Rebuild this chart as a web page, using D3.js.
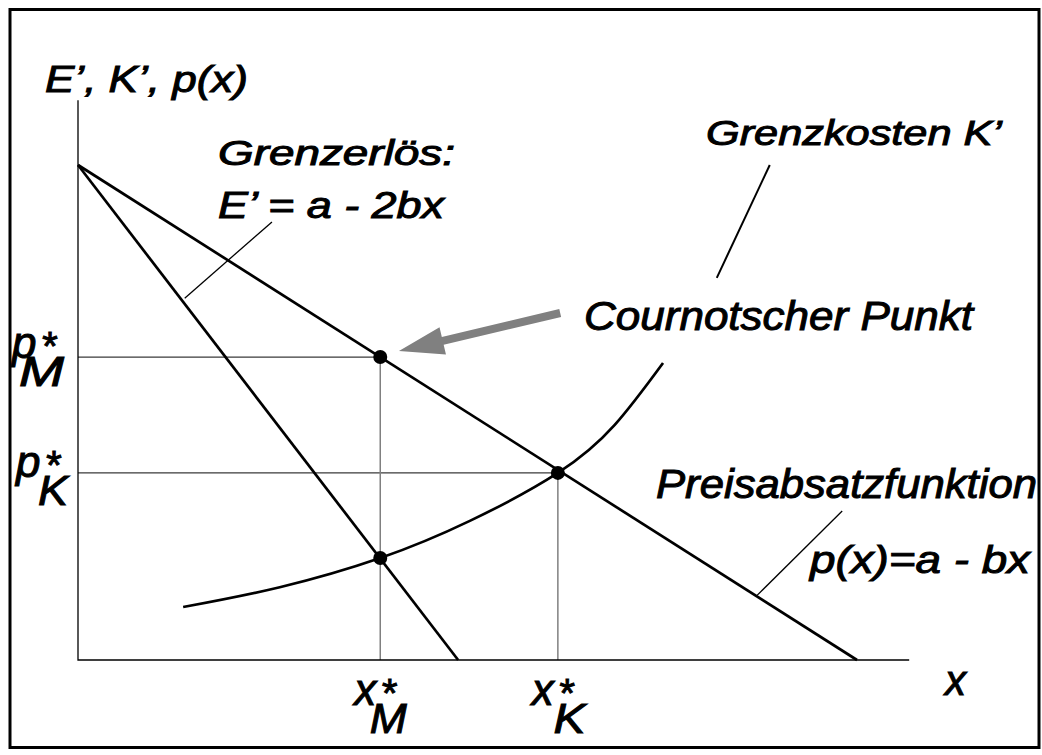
<!DOCTYPE html>
<html>
<head>
<meta charset="utf-8">
<script src="https://cdn.jsdelivr.net/npm/d3@7"></script>
<style>
  body { margin: 0; background: #fff; }
  text {
    font-family: "Liberation Sans", Arial, Helvetica, sans-serif;
    font-style: italic;
    fill: #000;
    stroke: #000;
    stroke-width: 1px;
  }
</style>
</head>
<body>
<div id="chart-area"></div>
<script>
// Werte in Modelleinheiten (a = 100, Sättigungsmenge = 100)
const axisMax = [106.7, 113.1];
const demand = [[0, 100], [100, 0]];              // p(x) = a - bx
const marginalRevenue = [[0, 100], [48.8, 0]];    // E' = a - 2bx
const marginalCost = [
  [13.5, 10.7], [25.9, 14.7], [38.8, 20.6], [50.3, 28.1],
  [61.6, 37.8], [68.9, 47.5], [75.1, 60.0]
];
const quantities = [38.8, 61.6];                  // x*_M, x*_K
const prices = [61.2, 37.8];                      // p*_M, p*_K
const subscripts = ['M', 'K'];
const points = [[38.8, 61.2], [61.6, 37.8], [38.8, 20.6]];
const leaderMR = [[13.7, 73.1], [24.9, 88.5]];
const leaderMC = [[82.0, 77.2], [88.8, 100]];
const leaderDemand = [[87.2, 13.1], [98.1, 30.1]];
const arrowCournot = [[61.9, 70.1], [41.2, 62.4]];

const width = 1042;
const height = 755;

const x = d3.scaleLinear().domain([0, 100]).range([78, 857]);
const y = d3.scaleLinear().domain([0, 100]).range([660, 165]);

const line = d3.line().x(d => x(d[0])).y(d => y(d[1]));

const svg = d3.select('#chart-area').append('svg')
  .attr('width', width)
  .attr('height', height);

// Hilfslinien
svg.selectAll('.hline')
  .data(prices)
  .enter().append('line')
    .attr('x1', x(0))
    .attr('x2', (d, i) => x(quantities[i]))
    .attr('y1', d => y(d))
    .attr('y2', d => y(d))
    .attr('stroke', '#3a3a3a')
    .attr('stroke-width', 1.3);

svg.selectAll('.vline')
  .data(quantities)
  .enter().append('line')
    .attr('x1', d => x(d))
    .attr('x2', d => x(d))
    .attr('y1', y(0))
    .attr('y2', (d, i) => y(prices[i]))
    .attr('stroke', '#808080')
    .attr('stroke-width', 1.5);

// Achsen
svg.append('path')
  .attr('d', line([[0, axisMax[1]], [0, 0], [axisMax[0], 0]]))
  .attr('fill', 'none')
  .attr('stroke', '#000')
  .attr('stroke-width', 1.3);

// Kurven
[demand, marginalRevenue].forEach(d => {
  svg.append('path')
    .attr('d', line(d))
    .attr('fill', 'none')
    .attr('stroke', '#000')
    .attr('stroke-width', 2.7);
});

const curve = d3.line()
  .x(d => x(d[0]))
  .y(d => y(d[1]))
  .curve(d3.curveNatural);

svg.append('path')
  .attr('d', curve(marginalCost))
  .attr('fill', 'none')
  .attr('stroke', '#000')
  .attr('stroke-width', 2.7);

// Hinweislinien
[[leaderMR, 1.3], [leaderMC, 2], [leaderDemand, 1.3]].forEach(([d, w]) => {
  svg.append('path')
    .attr('d', line(d))
    .attr('stroke', '#000')
    .attr('stroke-width', w);
});

// Punkte
svg.selectAll('circle')
  .data(points)
  .enter().append('circle')
    .attr('cx', d => x(d[0]))
    .attr('cy', d => y(d[1]))
    .attr('r', 7)
    .attr('fill', '#000');

// Pfeil zum Cournotschen Punkt
{
  const [p0, p1] = arrowCournot.map(d => [x(d[0]), y(d[1])]);
  const len = Math.hypot(p1[0] - p0[0], p1[1] - p0[1]);
  const ux = (p1[0] - p0[0]) / len, uy = (p1[1] - p0[1]) / len;
  const nx = -uy, ny = ux;
  const head = 45, hw = 14, sw = 4;
  const bx = p1[0] - ux * head, by = p1[1] - uy * head;
  const pts = [
    [p0[0] + nx * sw, p0[1] + ny * sw],
    [bx + nx * sw, by + ny * sw],
    [bx + nx * hw, by + ny * hw],
    p1,
    [bx - nx * hw, by - ny * hw],
    [bx - nx * sw, by - ny * sw],
    [p0[0] - nx * sw, p0[1] - ny * sw]
  ];
  svg.append('polygon')
    .attr('points', pts.map(p => p.join(',')).join(' '))
    .attr('fill', '#808080');
}

// Beschriftungen
const label = (t, px, py, size, len) => {
  const el = svg.append('text')
    .text(t)
    .attr('x', px)
    .attr('y', py)
    .attr('font-size', size);
  if (len) el.attr('textLength', len).attr('lengthAdjust', 'spacingAndGlyphs');
  return el;
};

label('E\u2019, K\u2019, p(x)', 45, 92, 37, 203);
label('Grenzerlös:', 218, 165, 35, 237);
label('E\u2019 = a - 2bx', 218, 218, 36, 226);
label('Grenzkosten K\u2019', 706, 145, 35, 296);
label('Cournotscher Punkt', 584, 330, 40, 389);
label('Preisabsatzfunktion', 656, 498, 40, 381);
label('p(x)=a - bx', 810, 573, 38, 220);
label('x', 945, 695, 42);

// p* / x* mit Index: ein Textelement je Marke
const starLabel = (base, sub, px, py, subDx, subLen) => {
  const t = svg.append('text')
    .attr('x', px)
    .attr('y', py)
    .attr('font-size', 44);
  t.append('tspan').text(base);
  t.append('tspan').text('*').attr('dx', 4).attr('dy', 2).attr('font-size', 40);
  t.append('tspan').text(sub)
    .attr('dx', subDx)
    .attr('dy', 26)
    .attr('font-size', 42)
    .attr('textLength', subLen)
    .attr('lengthAdjust', 'spacingAndGlyphs');
};

prices.forEach((p, i) => {
  const py = y(p);
  if (i === 0) starLabel('p', 'M', 12, py + 1, -37, 45);
  else starLabel('p', 'K', 16, py + 4, -22, 30);
});

quantities.forEach((q, i) => {
  const qx = x(q);
  starLabel('x', subscripts[i], qx - 26, 705, i === 0 ? -26 : -20, i === 0 ? 37 : 32);
});

// Rahmen
svg.append('rect')
  .attr('x', 10)
  .attr('y', 9.5)
  .attr('width', 1029)
  .attr('height', 738)
  .attr('fill', 'none')
  .attr('stroke', '#000')
  .attr('stroke-width', 3);
</script>
</body>
</html>
